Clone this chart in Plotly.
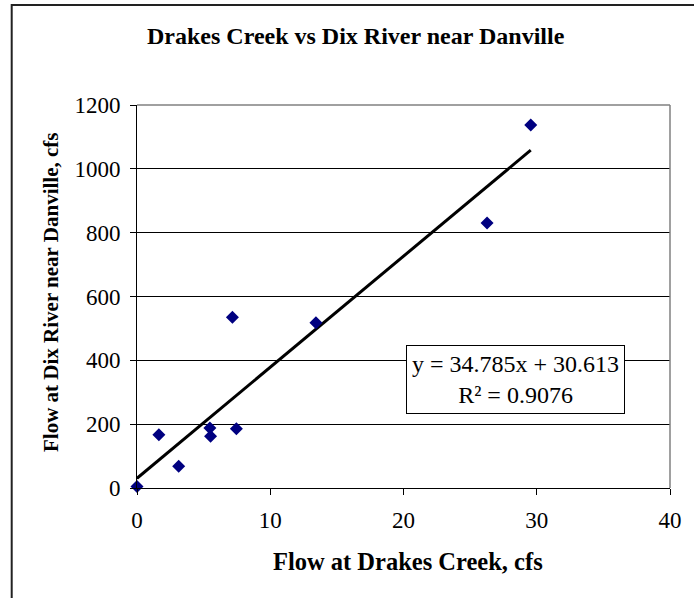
import plotly.graph_objects as go

# Paired flow observations (cfs)
drakes_flow = [0.0, 1.64, 3.13, 5.47, 5.52, 7.16, 7.46, 13.43, 26.27, 29.55]
dix_flow = [5, 167, 68, 188, 162, 535, 186, 518, 830, 1137]

# Linear trendline coefficients
slope = 34.785
intercept = 30.613
r_squared = 0.9076

x_ticks = [0, 10, 20, 30, 40]
y_ticks = [0, 200, 400, 600, 800, 1000, 1200]

W, H = 694, 598
L, R, T, B = 137, 21, 105, 110
PW, PH = W - L - R, H - T - B


def px(x):
    return (x - L) / PW


def py(y):
    return (H - B - y) / PH


SERIF = "Liberation Serif"

trend_x = [min(drakes_flow), max(drakes_flow)]
trend_y = [slope * v + intercept for v in trend_x]

fig = go.Figure()
fig.add_trace(go.Scatter(
    x=trend_x, y=trend_y, mode="lines",
    line=dict(color="black", width=3),
    hoverinfo="skip", showlegend=False, cliponaxis=False,
))
fig.add_trace(go.Scatter(
    x=drakes_flow, y=dix_flow, mode="markers",
    marker=dict(symbol="diamond", size=10, color="#000080", line=dict(width=0)),
    showlegend=False, cliponaxis=False,
))

fig.update_layout(
    width=W, height=H,
    margin=dict(l=L, r=R, t=T, b=B, pad=0),
    paper_bgcolor="white", plot_bgcolor="white",
    font=dict(family=SERIF, size=23, color="black"),
    xaxis=dict(
        range=[0, 40], tickvals=x_ticks, ticktext=[str(v) for v in x_ticks],
        showgrid=False, zeroline=False,
        showline=True, linecolor="black", linewidth=1,
        ticks="outside", ticklen=6, tickcolor="black", tickwidth=1,
        ticklabelstandoff=5,
        tickfont=dict(family=SERIF, size=23),
    ),
    yaxis=dict(
        range=[0, 1200], tickvals=y_ticks, ticktext=[str(v) for v in y_ticks],
        showgrid=True, gridcolor="black", gridwidth=1,
        zeroline=False,
        showline=True, linecolor="black", linewidth=1,
        ticks="outside", ticklen=6, tickcolor="black", tickwidth=1,
        ticklabelstandoff=5,
        tickfont=dict(family=SERIF, size=23),
    ),
    shapes=[
        # plot-area frame, top and right edges
        dict(type="line", xref="paper", yref="paper", x0=0, y0=1, x1=1, y1=1,
             line=dict(color="#808080", width=1.5), layer="above"),
        dict(type="line", xref="paper", yref="paper", x0=1, y0=0, x1=1, y1=1,
             line=dict(color="#808080", width=1.5), layer="above"),
        # chart-area border
        dict(type="path", xref="paper", yref="paper",
             path=f"M {px(11)} {py(620)} L {px(11)} {py(5)} L {px(720)} {py(5)}",
             line=dict(color="#222222", width=2)),
    ],
    annotations=[
        dict(text="Drakes Creek vs Dix River near Danville",
             xref="paper", yref="paper", x=px(357.5), y=py(36),
             xanchor="center", yanchor="middle", showarrow=False,
             font=dict(family=SERIF, size=24, weight="bold")),
        dict(text="Flow at Drakes Creek, cfs",
             xref="paper", yref="paper", x=px(410), y=py(561),
             xanchor="center", yanchor="middle", showarrow=False,
             font=dict(family=SERIF, size=24.5, weight="bold")),
        dict(text="Flow at Dix River near Danville, cfs",
             xref="paper", yref="paper", x=px(50), y=py(292.5),
             xanchor="center", yanchor="middle", showarrow=False, textangle=-90,
             font=dict(family=SERIF, size=21, weight="bold")),
        dict(text=f"y = {slope}x + {intercept}<br>R² = {r_squared}",
             xref="paper", yref="paper", x=px(518), y=py(379.5),
             xanchor="center", yanchor="middle", showarrow=False,
             align="center", bgcolor="white", bordercolor="black",
             borderwidth=1, borderpad=5,
             font=dict(family=SERIF, size=24)),
    ],
)

fig.write_html("out.html")
